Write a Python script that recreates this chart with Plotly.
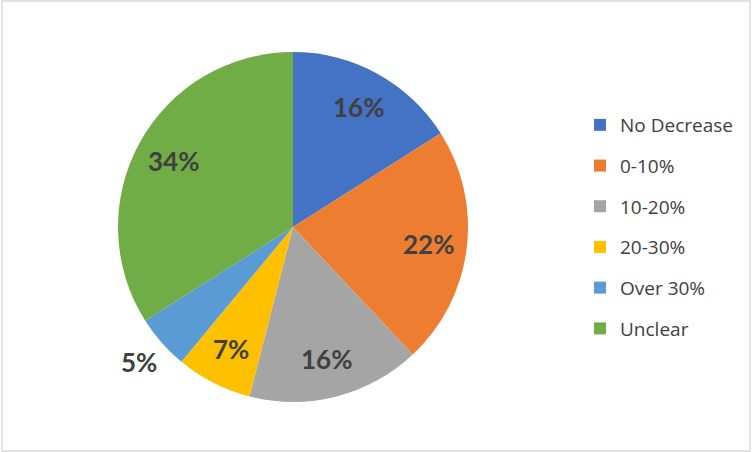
import math
import plotly.graph_objects as go

categories = ["No Decrease", "0-10%", "10-20%", "20-30%", "Over 30%", "Unclear"]
values = [16, 22, 16, 7, 5, 34]
colors = ["#4472C4", "#ED7D31", "#A5A5A5", "#FFC000", "#5B9BD5", "#70AD47"]
label_outside = [False, False, False, False, True, False]

W, H = 752, 452
cx, cy, r = 293, 227, 175

fig = go.Figure()
fig.add_trace(go.Pie(
    labels=categories, values=values, sort=False, direction="clockwise", rotation=0,
    marker=dict(colors=colors, line=dict(color="white", width=0)),
    textinfo="none",
    domain=dict(x=[(cx - r) / W, (cx + r) / W], y=[(H - cy - r) / H, (H - cy + r) / H]),
    showlegend=False, hoverinfo="label+percent",
))
for i, (c, col) in enumerate(zip(categories, colors)):
    fig.add_trace(go.Scatter(
        x=[None], y=[None], mode="markers", name=c, legendgroup=str(i),
        marker=dict(symbol="square", size=12, color=col), showlegend=True,
    ))

# data labels placed at each slice's mid-angle (Excel best-fit style)
total = sum(values)
annotations = []
cum = 0
for v, out in zip(values, label_outside):
    theta = 2 * math.pi * (cum + v / 2) / total
    cum += v
    k = 1.17 if out else 0.78
    xs = cx + k * r * math.sin(theta)
    ys = cy - k * r * math.cos(theta)
    annotations.append(dict(
        x=xs / W, y=(H - ys) / H, xref="paper", yref="paper", showarrow=False,
        text=f"<b>{round(100 * v / total)}%</b>",
        font=dict(family="Lato", size=26, color="#404040"),
        xanchor="center", yanchor="middle",
    ))

fig.update_layout(
    width=W, height=H, margin=dict(l=0, r=0, t=0, b=0),
    paper_bgcolor="white", plot_bgcolor="white",
    xaxis=dict(visible=False), yaxis=dict(visible=False),
    legend=dict(x=580 / W, y=(H - 106) / H, xanchor="left", yanchor="top",
                font=dict(family="Open Sans", size=19, color="#404040"),
                tracegroupgap=13, itemwidth=30, bgcolor="rgba(0,0,0,0)"),
    annotations=annotations,
    shapes=[dict(type="rect", xref="paper", yref="paper", x0=2 / W, x1=750 / W,
                 y0=1 / H, y1=(H - 1) / H, line=dict(color="#D9D9D9", width=1.5))],
)
fig.write_html("out.html", config={"displayModeBar": False},
               post_script="document.body.style.margin='0';document.body.style.overflow='hidden';")
